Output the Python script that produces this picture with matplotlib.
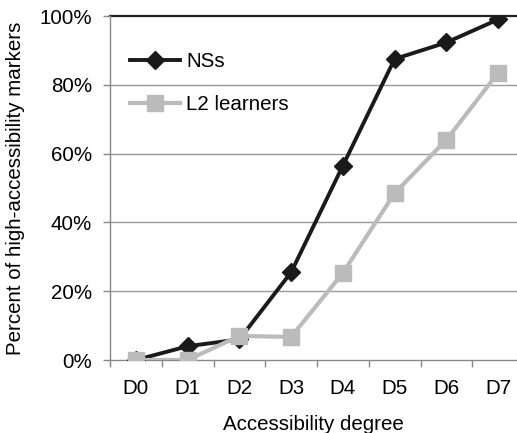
import matplotlib.pyplot as plt
import numpy as np

plt.rcParams['font.family'] = ['Liberation Sans', 'DejaVu Sans']

categories = ['D0', 'D1', 'D2', 'D3', 'D4', 'D5', 'D6', 'D7']
ns_values = [0, 4, 6, 25.5, 56.5, 87.5, 92.3, 99]
l2_values = [0, 0, 7, 6.7, 25.3, 48.5, 64, 83.5]
y_ticks = [0, 20, 40, 60, 80, 100]

FS = 14.8

fig = plt.figure(figsize=(5.17, 4.33), dpi=100)
ax = fig.add_axes([110 / 517, 1 - 360 / 433, 1 - 110 / 517, (360 - 16) / 433])

x = np.arange(len(categories))

# gridlines, top one drawn dark
for yv in y_ticks[1:-1]:
    ax.axhline(yv, color='#999999', lw=1.0, zorder=1)
ax.axhline(100, color='#222222', lw=1.6, zorder=1, clip_on=False)

ax.plot(x, ns_values, color='#1a1a1a', lw=2.8, marker='D', ms=9.5,
        label='NSs', zorder=3)
ax.plot(x, l2_values, color='#bbbbbb', lw=3.0, marker='s', ms=11,
        label='L2 learners', zorder=4)

ax.set_xlim(-0.5, 7.5 - 7 / 51.7)
ax.set_ylim(0, 100)

ax.set_yticks(y_ticks)
ax.set_yticklabels([f'{v}%' for v in y_ticks], fontsize=FS)
ax.set_xticks(x)
ax.set_xticklabels(categories, fontsize=FS)
ax.set_xticks(np.arange(-0.5, 7.5, 1), minor=True)
ax.tick_params(axis='x', which='major', length=0, pad=14)
ax.tick_params(axis='x', which='minor', length=5, color='#888888', width=1)
ax.tick_params(axis='y', length=5, color='#888888', width=1, pad=8)

for side in ['top', 'right']:
    ax.spines[side].set_visible(False)
for side in ['left', 'bottom']:
    ax.spines[side].set_color('#888888')
    ax.spines[side].set_linewidth(1.0)

ax.set_xlabel('Accessibility degree', fontsize=FS, labelpad=12)
ax.set_ylabel('Percent of high-accessibility markers', fontsize=FS, labelpad=10)

ax.legend(loc='upper left', frameon=False, fontsize=FS, handlelength=2.4,
          labelspacing=1.2, handletextpad=0.3, borderaxespad=0.0,
          bbox_to_anchor=(0.03, 0.92))

fig.savefig('out.png', dpi=100)
